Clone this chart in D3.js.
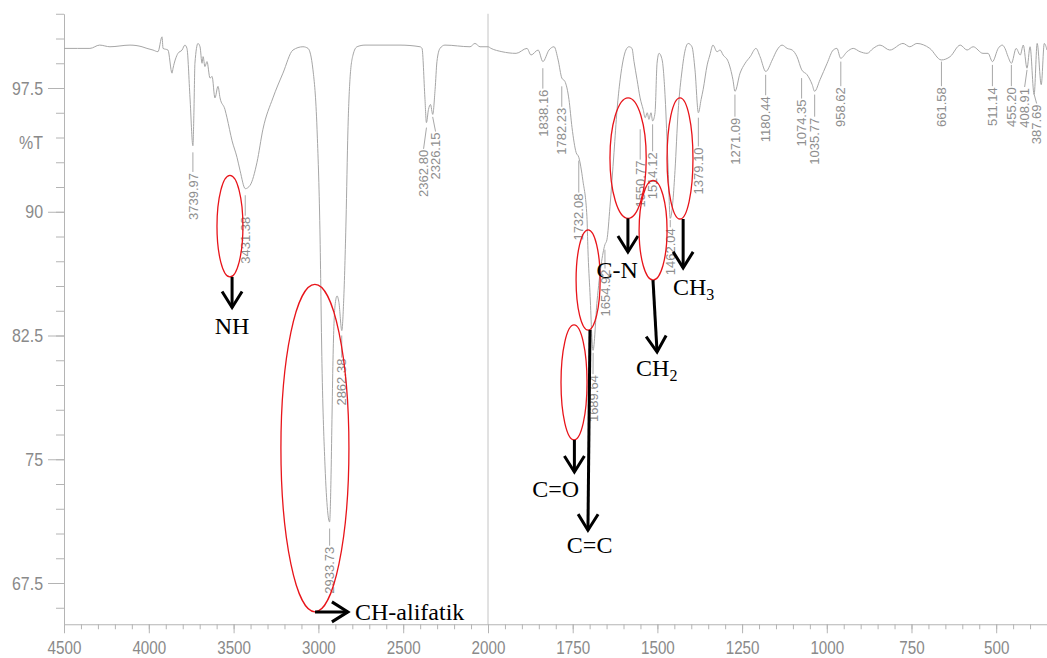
<!DOCTYPE html>
<html>
<head>
<meta charset="utf-8">
<script src="https://cdn.jsdelivr.net/npm/d3@7/dist/d3.min.js"></script>
<style>
  body { margin: 0; background: #fff; }
  svg { display: block; }
</style>
</head>
<body>
<svg id="chart"></svg>
<script>
// IR spectrum, wavenumber (cm-1) vs %T
const wavenumbers = [
  4500, 4420, 4347, 4290, 4229, 4111, 4040, 4011, 3975, 3946, 3922, 3916, 3887, 3863, 3857, 3828,
  3804, 3787, 3775, 3757, 3740, 3734, 3728, 3710, 3698, 3686, 3680, 3669, 3657, 3639, 3627, 3610,
  3592, 3580, 3551, 3539, 3509, 3480, 3462, 3431, 3403, 3362, 3327, 3268, 3209, 3150, 3091, 3061,
  3032, 3008, 2991, 2979, 2961, 2946, 2934, 2926, 2920, 2914, 2902, 2890, 2879, 2862, 2851, 2837,
  2826, 2814, 2796, 2772, 2725, 2519, 2401, 2389, 2372, 2363, 2351, 2339, 2326, 2312, 2301, 2283,
  2254, 2106, 2077, 2047, 2000,
  1991, 1959, 1917, 1885, 1873, 1852, 1838, 1820, 1805, 1793, 1782, 1773, 1761, 1752, 1740, 1732,
  1720, 1708, 1705, 1699, 1690, 1678, 1666, 1655, 1649, 1640, 1628, 1619, 1610, 1601, 1593, 1584,
  1575, 1569, 1560, 1551, 1542, 1536, 1530, 1525, 1519, 1514, 1507, 1501, 1495, 1486, 1477, 1469,
  1462, 1454, 1448, 1439, 1427, 1418, 1409, 1398, 1389, 1379, 1371, 1365, 1353, 1345, 1336, 1324,
  1315, 1306, 1291, 1277, 1271, 1256, 1241, 1226, 1209, 1197, 1180, 1161, 1147, 1132, 1117, 1102,
  1088, 1074, 1058, 1043, 1036, 1020, 999, 981, 970, 959, 940, 922, 902, 881, 863, 843,
  814, 775, 755, 734, 696, 662, 636, 606, 586, 568, 539, 524, 511, 494, 482, 474,
  465, 455, 441, 429, 420, 409, 400, 388, 379, 367, 358, 350
];
const transmittance = [
  99.9, 99.9, 99.9, 100.1, 100.0, 100.1, 100.0, 99.9, 99.8, 99.7, 100.6, 99.9, 99.8, 98.4, 98.7, 99.6,
  99.8, 100.1, 99.9, 96.9, 94.0, 96.0, 99.0, 100.2, 100.0, 99.0, 99.4, 98.8, 99.1, 98.1, 98.2, 96.9,
  97.6, 96.9, 96.2, 95.7, 94.3, 93.3, 92.5, 91.4, 91.6, 93.0, 95.0, 96.9, 98.4, 99.8, 100.0, 99.9,
  98.6, 95.0, 88.9, 80.8, 74.6, 71.9, 71.2, 73.7, 77.4, 81.0, 84.3, 84.9, 84.5, 82.8, 84.6, 89.5,
  94.9, 98.0, 99.5, 100.0, 100.1, 100.1, 100.0, 99.9, 96.9, 95.4, 96.2, 96.5, 95.9, 97.4, 99.1, 99.9,
  100.1, 100.0, 100.2, 100.0, 100.0,
  99.9, 99.7, 99.6, 99.9, 99.5, 99.8, 99.1, 99.8, 100.0, 99.2, 98.1, 97.9, 96.8, 95.1, 93.6, 93.3,
  91.9, 89.7, 87.7, 85.1, 81.6, 84.6, 86.8, 88.0, 88.3, 90.3, 93.6, 96.2, 98.0, 99.2, 99.8, 100.0,
  99.9, 99.1, 98.0, 96.9, 96.2, 95.7, 96.0, 95.6, 96.0, 95.5, 96.0, 99.0, 99.6, 99.2, 96.9, 93.0,
  89.6, 90.7, 92.5, 96.0, 98.6, 99.8, 100.2, 100.0, 98.6, 96.0, 96.8, 97.4, 98.9, 99.5, 100.1, 99.7,
  99.8, 99.5, 99.1, 98.0, 97.3, 98.4, 99.0, 99.4, 99.9, 99.4, 98.5, 99.2, 99.8, 100.1, 99.9, 99.8,
  99.4, 98.6, 98.3, 97.7, 97.3, 98.0, 99.0, 99.8, 99.9, 99.3, 99.7, 99.9, 99.7, 99.6, 99.9, 100.1,
  99.8, 100.2, 100.0, 100.2, 99.9, 99.2, 99.4, 100.1, 99.8, 100.0, 99.6, 99.6, 99.1, 99.9, 100.1, 99.9,
  99.4, 99.0, 99.9, 99.5, 100.1, 98.7, 100.0, 97.1, 100.2, 97.7, 100.2, 99.8
];

// peak picks: label, %T where the leader starts, %T where the rotated label ends
const peakLabels = [
  "3739.97", "3431.38", "2933.73", "2862.38", "2362.80", "2326.15", "1838.16", "1782.23",
  "1732.08", "1689.64", "1654.92", "1550.77", "1514.12", "1462.04", "1379.10", "1271.09",
  "1180.44", "1074.35", "1035.77", "958.62", "661.58", "511.14", "455.20", "408.91", "387.69"
];
const peakLeaderT = [
  93.6, 91.0, 70.8, 82.5, 95.1, 95.75, 98.7, 97.6,
  93.1, 81.45, 87.7, 95.0, 95.3, 89.5, 95.7, 97.1,
  98.3, 98.1, 97.1, 99.1, 99.1, 98.9, 98.9, 98.6, 97.1
];
const peakLabelT = [
  92.35, 89.7, 69.7, 81.1, 93.75, 94.8, 97.4, 96.3,
  91.1, 80.1, 86.5, 93.1, 93.6, 89.0, 93.9, 95.7,
  97.0, 96.8, 95.7, 97.55, 97.55, 97.55, 97.55, 97.5, 96.5
];

const xMajorTicks = [4500, 4000, 3500, 3000, 2500, 2000, 1750, 1500, 1250, 1000, 750, 500];
const yMajorTicks = [67.5, 75, 82.5, 90, 97.5];

// hand-drawn band assignments (wavenumber span, %T span of the ellipse, arrow, label)
const bandNames = ["NH", "CH-alifatik", "C=O", "C=C", "C-N", "CH2", "CH3"];
const bandWn = [[3598, 3445], [3221, 2820], [1784.5, 1707.7], [1740, 1669], [1640, 1533], [1554, 1471.5], [1471.5, 1395]];
const bandT = [[92.2, 86.05], [85.6, 65.75], [83.14, 76.17], [88.9, 82.83], [96.9, 89.6], [91.9, 85.86], [96.9, 89.56]];
const bandArrow = [
  [[3509, 86.05], [3509, 84.2]],
  [[3020, 65.75], [2826, 65.75]],
  [[1745, 76.17], [1745, 74.23]],
  [[1699, 82.83], [1705, 70.7]],
  [[1587, 89.6], [1587, 87.56]],
  [[1513, 85.86], [1501, 81.5]],
  [[1424, 89.56], [1424, 86.6]]
];
const bandLabelAt = [[3509, 82.6], [2784, 65.26], [1800, 72.7], [1700, 69.3], [1619, 86.0], [1563, 80.05], [1454, 84.96]];

const width = 1047, height = 658;
const svg = d3.select("#chart").attr("width", width).attr("height", height);

// the scan uses a different scale each side of 2000
const x = d3.scaleLinear().domain([4500, 2000, 350]).range([64, 488, 1047]);
const y = d3.scaleLinear().domain([65, 102]).range([624.25, 13.75]);

const axisGrey = "#b4b4b4";
const textGrey = "#8a8a8a";

// divider at 2000
svg.append("line")
  .attr("x1", x(2000)).attr("x2", x(2000))
  .attr("y1", y(102)).attr("y2", y(65))
  .attr("stroke", "#c4c4c4").attr("stroke-width", 1);

// x axis, minor then major
const xMinor = d3.range(4500, 2000, -100).concat(d3.range(2000, 349, -50));
svg.append("g")
  .attr("transform", `translate(0,${y(65)})`)
  .call(d3.axisBottom(x).tickValues(xMinor).tickSize(5).tickSizeOuter(0).tickFormat(""))
  .call(g => g.select(".domain").attr("stroke", axisGrey))
  .call(g => g.selectAll(".tick line").attr("stroke", axisGrey));

svg.append("g")
  .attr("transform", `translate(0,${y(65)})`)
  .call(d3.axisBottom(x).tickValues(xMajorTicks).tickSize(9).tickSizeOuter(0).tickPadding(7)
    .tickFormat(d3.format("d")))
  .call(g => g.select(".domain").remove())
  .call(g => g.selectAll(".tick line").attr("stroke", axisGrey))
  .call(g => g.selectAll(".tick text")
    .attr("fill", textGrey)
    .attr("font-family", "Liberation Sans, Arial, sans-serif")
    .attr("font-size", 19)
    .attr("transform", "scale(0.8,1)"));

// y axis
const yMinor = d3.range(66, 102.1, 1.5);
svg.append("g")
  .attr("transform", `translate(${x(4500)},0)`)
  .call(d3.axisLeft(y).tickValues(yMinor).tickSize(8).tickSizeOuter(0).tickFormat(""))
  .call(g => g.select(".domain").attr("stroke", axisGrey))
  .call(g => g.selectAll(".tick line").attr("stroke", axisGrey));

svg.append("g")
  .attr("transform", `translate(${x(4500)},0)`)
  .call(d3.axisLeft(y).tickValues(yMajorTicks).tickSize(16).tickSizeOuter(0).tickPadding(5)
    .tickFormat(d => d % 1 === 0 ? d3.format("d")(d) : d3.format(".1f")(d)))
  .call(g => g.select(".domain").remove())
  .call(g => g.selectAll(".tick line").attr("stroke", axisGrey))
  .call(g => g.selectAll(".tick text")
    .attr("fill", textGrey)
    .attr("font-family", "Liberation Sans, Arial, sans-serif")
    .attr("font-size", 19)
    .attr("x", -21 / 0.84)
    .attr("transform", "scale(0.84,1)"));

svg.append("text")
  .attr("transform", `translate(43,${y(94.2)}) scale(0.84,1)`)
  .attr("text-anchor", "end")
  .attr("dy", "0.35em")
  .attr("fill", textGrey)
  .attr("font-family", "Liberation Sans, Arial, sans-serif")
  .attr("font-size", 19)
  .text("%T");

// spectrum
const spectrum = wavenumbers.map((w, i) => [w, transmittance[i]]);
svg.append("path")
  .datum(spectrum)
  .attr("fill", "none")
  .attr("stroke", "#a6a6a6")
  .attr("stroke-width", 1)
  .attr("d", d3.line().x(d => x(d[0])).y(d => y(d[1])).curve(d3.curveMonotoneX));

// peak picks; labels that sit too close are pushed apart like the instrument printout does
const peakData = peakLabels.map((s, i) => ({ label: s, wn: +s, from: peakLeaderT[i], to: peakLabelT[i] }));
peakData.forEach(d => { d.lx = x(d.wn); });
const minGap = 12;
for (let i = 1; i < peakData.length; i++) {
  const gap = peakData[i].lx - peakData[i - 1].lx;
  if (gap < minGap) {
    const push = (minGap - gap) / 2;
    peakData[i - 1].lx -= push;
    peakData[i].lx += push;
  }
}

const peaks = svg.append("g").selectAll("g")
  .data(peakData)
  .join("g");

peaks.append("polyline")
  .attr("points", d => `${x(d.wn)},${y(d.from)} ${d.lx},${y(d.to) - 1}`)
  .attr("fill", "none")
  .attr("stroke", "#a8a8a8").attr("stroke-width", 1);

peaks.append("text")
  .attr("transform", d => `translate(${d.lx},${y(d.to)}) rotate(-90)`)
  .attr("text-anchor", "end")
  .attr("dy", "0.36em")
  .attr("fill", "#8e8e8e")
  .attr("font-family", "Liberation Sans, Arial, sans-serif")
  .attr("font-size", 13)
  .text(d => d.label);

// ellipses, arrows and band names
const notes = svg.append("g");

bandNames.forEach((name, i) => {
  const [w0, w1] = bandWn[i];
  const [t0, t1] = bandT[i];
  notes.append("ellipse")
    .attr("cx", (x(w0) + x(w1)) / 2)
    .attr("cy", (y(t0) + y(t1)) / 2)
    .attr("rx", Math.abs(x(w1) - x(w0)) / 2)
    .attr("ry", Math.abs(y(t1) - y(t0)) / 2)
    .attr("fill", "none")
    .attr("stroke", "#e8141a")
    .attr("stroke-width", 1.3);

  const [a, b] = bandArrow[i];
  const x1 = x(a[0]), y1 = y(a[1]), x2 = x(b[0]), y2 = y(b[1]);
  const ang = Math.atan2(y2 - y1, x2 - x1);
  const hl = 16, hw = 10;
  const bx = x2 - hl * Math.cos(ang), by = y2 - hl * Math.sin(ang);
  const px = -Math.sin(ang) * hw, py = Math.cos(ang) * hw;
  notes.append("line")
    .attr("x1", x1).attr("y1", y1).attr("x2", x2).attr("y2", y2)
    .attr("stroke", "#000").attr("stroke-width", 3);
  notes.append("polyline")
    .attr("points", [[bx + px, by + py], [x2, y2], [bx - px, by - py]].map(p => p.join(",")).join(" "))
    .attr("fill", "none")
    .attr("stroke", "#000").attr("stroke-width", 3)
    .attr("stroke-linejoin", "miter");

  const anchor = (name === "CH-alifatik" || name === "CH2" || name === "CH3") ? "start" : "middle";
  const t = notes.append("text")
    .attr("x", x(bandLabelAt[i][0]))
    .attr("y", y(bandLabelAt[i][1]))
    .attr("text-anchor", anchor)
    .attr("font-family", "Liberation Serif, Times New Roman, serif")
    .attr("font-size", 24)
    .attr("fill", "#000");
  const m = name.match(/^(CH)(\d)$/);
  if (m) {
    t.append("tspan").text(m[1]);
    t.append("tspan").attr("font-size", 16).attr("dy", 5).text(m[2]);
  } else {
    t.text(name);
  }
});
</script>
</body>
</html>
